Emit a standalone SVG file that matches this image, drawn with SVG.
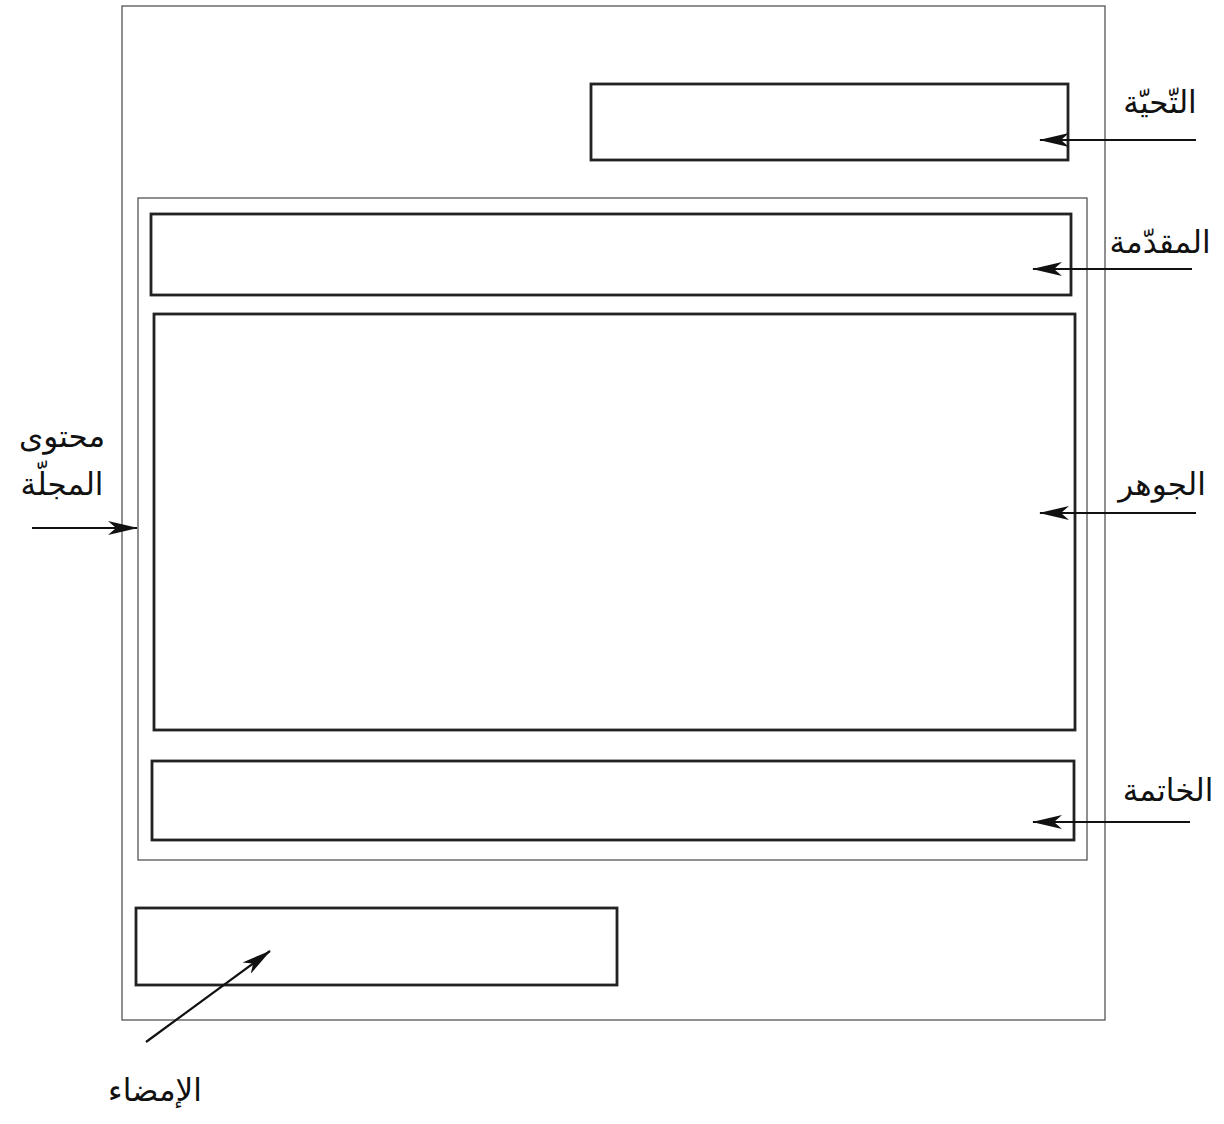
<svg xmlns="http://www.w3.org/2000/svg" width="1224" height="1124" viewBox="0 0 1224 1124">
<style>
.frame{fill:none;stroke:#555;stroke-width:1.3}
.box{fill:#fff;stroke:#222;stroke-width:2.8}
.lbl{font-family:"DejaVu Sans","Noto Sans",sans-serif;font-size:31px;fill:#111;text-anchor:middle}
.arr{stroke:#111;stroke-width:2.2;fill:none;marker-end:url(#ah)}
</style>
<defs>
<marker id="ah" viewBox="0 0 30 14" refX="29" refY="7" markerWidth="30" markerHeight="14" markerUnits="userSpaceOnUse" orient="auto">
<path d="M0,0 L30,7 L0,14 L8,7 Z" fill="#111"/>
</marker>
</defs>
<rect width="1224" height="1124" fill="#fff"/>
<g id="page"><rect class="frame" x="122" y="6" width="983" height="1014"/></g>
<g id="content"><rect class="frame" x="138" y="198" width="949" height="662"/></g>
<g id="greeting"><rect class="box" x="591" y="84" width="477" height="76"/></g>
<g id="intro"><rect class="box" x="151" y="214" width="920" height="81"/></g>
<g id="body"><rect class="box" x="154" y="314" width="921" height="416"/></g>
<g id="conclusion"><rect class="box" x="152" y="761" width="922" height="79"/></g>
<g id="signature"><rect class="box" x="136" y="908" width="481" height="77"/></g>
<g id="labels">
<text class="lbl" x="1160" y="113" direction="rtl">التّحيّة</text>
<text class="lbl" x="1160" y="253" direction="rtl">المقدّمة</text>
<text class="lbl" x="62" y="447" direction="rtl">محتوى</text>
<text class="lbl" x="62" y="495" direction="rtl">المجلّة</text>
<text class="lbl" x="1162" y="495" direction="rtl">الجوهر</text>
<text class="lbl" x="1168" y="801" direction="rtl">الخاتمة</text>
<text class="lbl" x="155" y="1101" direction="rtl">الإمضاء</text>
</g>
<g id="connectors">
<line class="arr" x1="1196" y1="140" x2="1040" y2="140"/>
<line class="arr" x1="1192" y1="269" x2="1033" y2="269"/>
<line class="arr" x1="1196" y1="513" x2="1040" y2="513"/>
<line class="arr" x1="1190" y1="822" x2="1033" y2="822"/>
<line class="arr" x1="32" y1="528" x2="137" y2="528"/>
<line class="arr" x1="146" y1="1042" x2="270" y2="951"/>
</g>
</svg>
